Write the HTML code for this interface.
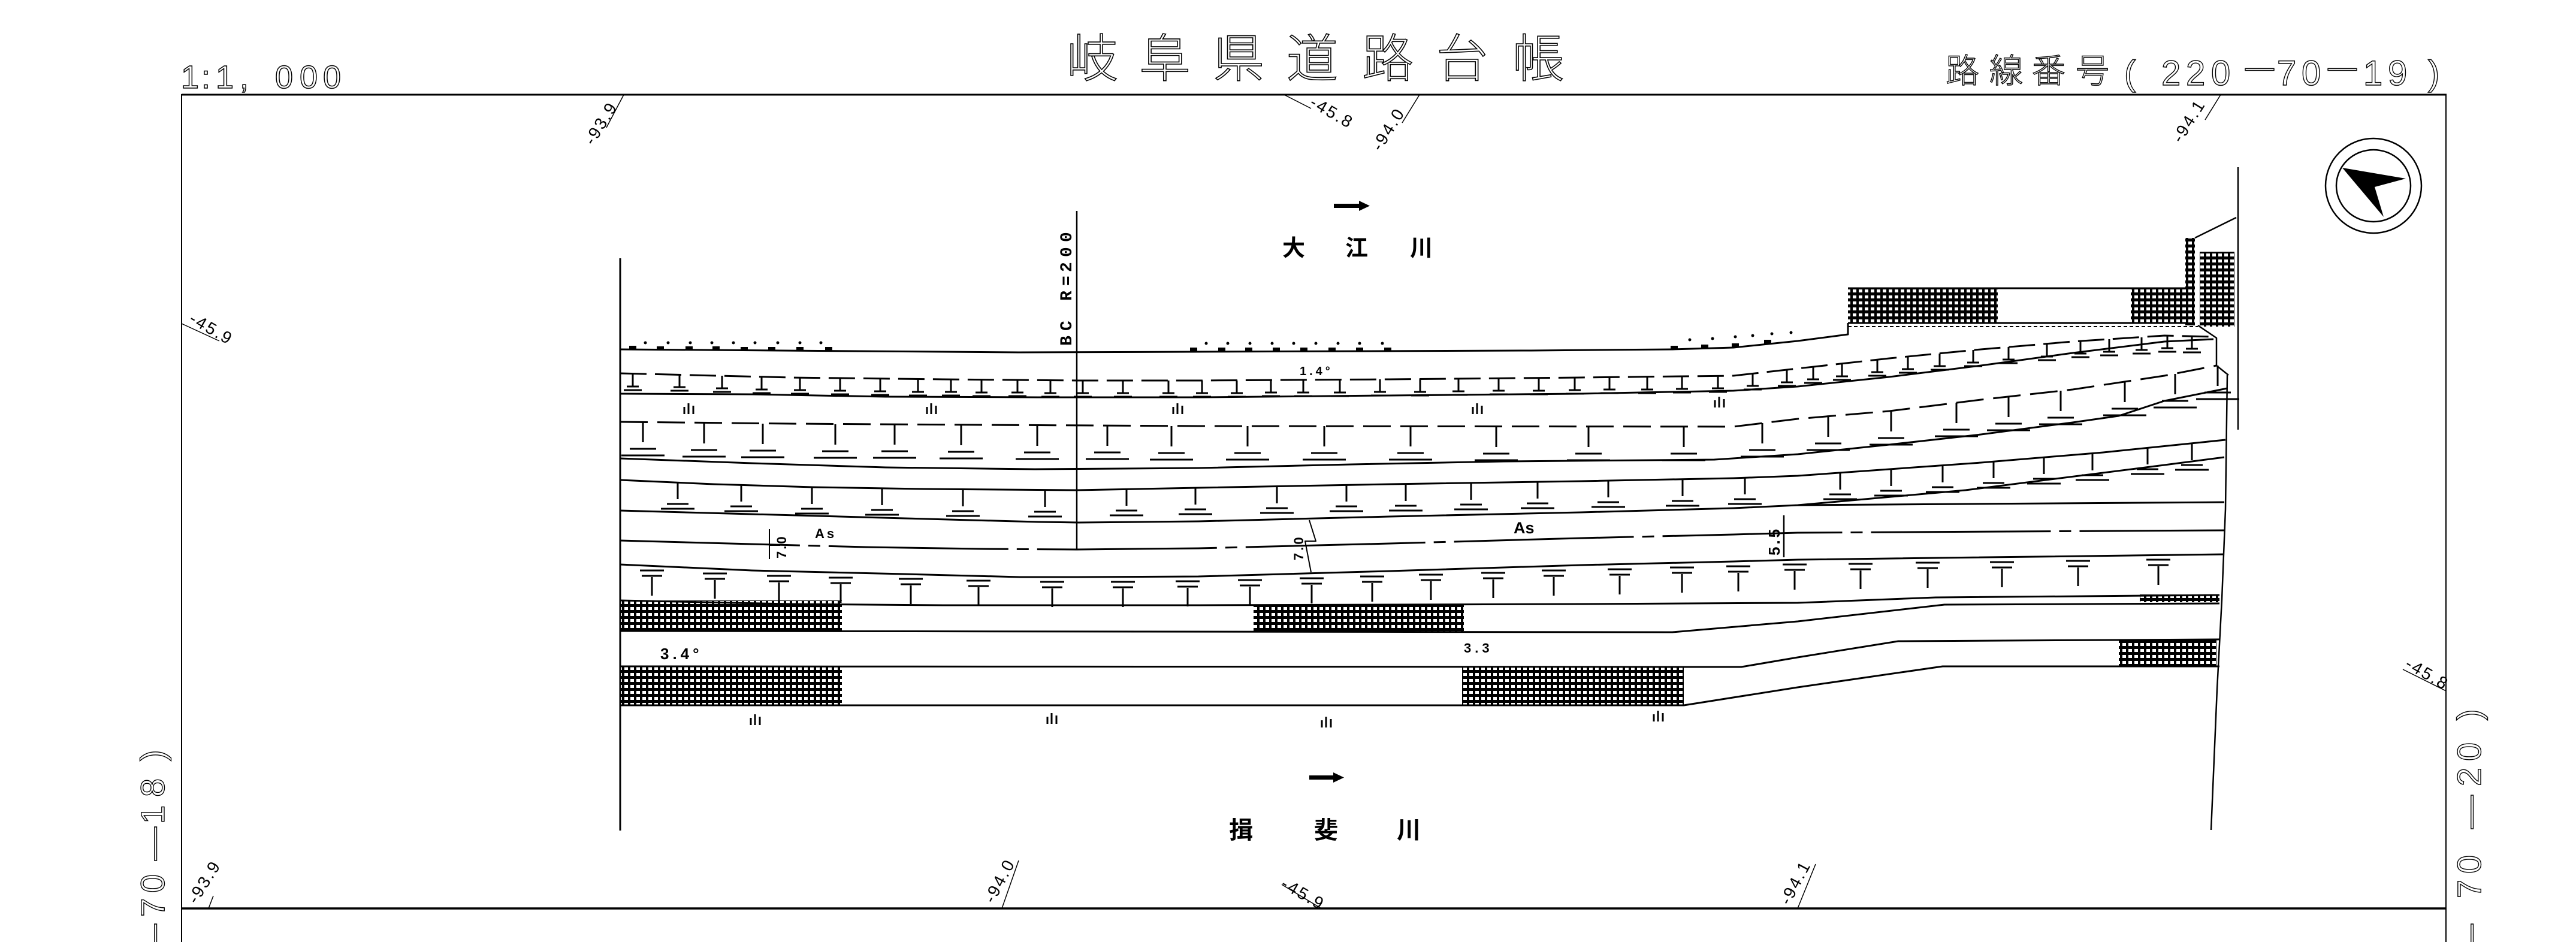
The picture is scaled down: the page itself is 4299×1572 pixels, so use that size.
<!DOCTYPE html>
<html><head><meta charset="utf-8">
<style>html,body{margin:0;padding:0;background:#fff;overflow:hidden}svg{display:block}</style>
</head><body>
<svg xmlns="http://www.w3.org/2000/svg" width="4299" height="1572" viewBox="0 0 4299 1572" font-family="'Liberation Sans','Noto Sans CJK JP',sans-serif">
<defs>
<pattern id="h" width="10" height="10" patternUnits="userSpaceOnUse"><rect width="10" height="10" fill="#000"/><rect x="2" y="3" width="6" height="5" fill="#fff"/></pattern>
<g id="t1" fill="none" stroke="#000" stroke-width="3"><path d="M0 0V20M-10 21H10M-15 27H15"/></g>
<g id="t2" fill="none" stroke="#000" stroke-width="3"><path d="M0 0V34M-22 45H22M-36 56H36"/></g>
<g id="t3" fill="none" stroke="#000" stroke-width="3"><path d="M0 0V28M-18 36H18M-28 44H28"/></g>
<g id="t4" fill="none" stroke="#000" stroke-width="3"><path d="M-20 8H20M-17 17H17M0 19V50"/></g>
<g id="ym" fill="none" stroke="#000" stroke-width="3"><path d="M-8 -4V8M-1 -10V8M7 -6V8"/></g>
</defs>
<rect width="4299" height="1572" fill="#fff"/>

<!-- header text -->
<text x="1780 1901 2024 2147 2273 2397 2524" y="128" font-size="86" font-weight="300" fill="none" stroke="#000" stroke-width="1.6">岐阜県道路台帳</text>
<text x="302 336 360 400 459 500 539" y="147" font-size="54" fill="none" stroke="#000" stroke-width="1.5">1:1,000</text>
<text x="3247 3320 3391 3464" y="138" font-size="56" font-weight="300" fill="none" stroke="#000" stroke-width="1.4">路線番号</text>
<text x="3545 3607 3648 3690 3800 3841 3944 3985 4052" y="142" font-size="58" fill="none" stroke="#000" stroke-width="1.4">(2207019)</text>
<text x="3747 3885" y="128" font-size="48" fill="none" stroke="#000" stroke-width="1.4">——</text>

<!-- frame -->
<g stroke="#000" fill="none">
<line x1="303" y1="158" x2="4083" y2="158" stroke-width="3"/>
<line x1="303" y1="1516" x2="4083" y2="1516" stroke-width="3.5"/>
<line x1="303" y1="157" x2="303" y2="1572" stroke-width="2"/>
<line x1="4082" y1="157" x2="4082" y2="1572" stroke-width="2"/>
</g>

<!-- side labels -->
<text transform="rotate(-90)" y="274" font-size="56" fill="none" stroke="#000" stroke-width="1.4"><tspan x="-1598">—</tspan><tspan x="-1530">7</tspan><tspan x="-1490">0</tspan><tspan x="-1436">—</tspan><tspan x="-1375">1</tspan><tspan x="-1330">8</tspan><tspan x="-1270">)</tspan></text>
<text transform="rotate(-90)" y="4140" font-size="56" fill="none" stroke="#000" stroke-width="1.4"><tspan x="-1598">—</tspan><tspan x="-1499">7</tspan><tspan x="-1458">0</tspan><tspan x="-1383">—</tspan><tspan x="-1312">2</tspan><tspan x="-1270">0</tspan><tspan x="-1202">)</tspan></text>

<!-- elevation labels -->
<g stroke="#000" stroke-width="1.5">
<line x1="1041" y1="158" x2="1012" y2="213"/>
<line x1="2143" y1="158" x2="2188" y2="181"/>
<line x1="2369" y1="158" x2="2340" y2="205"/>
<line x1="3706" y1="158" x2="3680" y2="200"/>
<line x1="303" y1="540" x2="366" y2="569"/>
<line x1="4010" y1="1117" x2="4082" y2="1153"/>
<line x1="1672" y1="1516" x2="1700" y2="1436"/>
<line x1="2139" y1="1476" x2="2205" y2="1516"/>
<line x1="3000" y1="1516" x2="3030" y2="1442"/>
<line x1="348" y1="1516" x2="356" y2="1495"/>
</g>
<g font-size="28" fill="#000">
<text transform="translate(990,244) rotate(-58)" letter-spacing="3">-93.9</text>
<text transform="translate(2184,176) rotate(30)" letter-spacing="3">-45.8</text>
<text transform="translate(2304,254) rotate(-58)" letter-spacing="3">-94.0</text>
<text transform="translate(3640,240) rotate(-58)" letter-spacing="3">-94.1</text>
<text transform="translate(314,537) rotate(30)" letter-spacing="3">-45.9</text>
<text transform="translate(4012,1113) rotate(30)" letter-spacing="3">-45.8</text>
<text transform="translate(328,1510) rotate(-58)" letter-spacing="3">-93.9</text>
<text transform="translate(1658,1509) rotate(-62)" letter-spacing="3">-94.0</text>
<text transform="translate(2136,1480) rotate(30)" letter-spacing="3">-45.9</text>
<text transform="translate(2986,1512) rotate(-62)" letter-spacing="3">-94.1</text>
</g>

<!-- compass -->
<ellipse cx="3961" cy="310" rx="80" ry="79" fill="none" stroke="#000" stroke-width="2.5"/>
<ellipse cx="3961" cy="310" rx="62" ry="60" fill="none" stroke="#000" stroke-width="2.5"/>
<polygon points="3909,280 4015,298 3963,312 3978,362" fill="#000"/>

<!-- river labels & arrows -->
<rect x="2226" y="340" width="44" height="7" fill="#000"/>
<polygon points="2268,335 2286,343.5 2268,352" fill="#000"/>
<text x="2140 2245 2353" y="427" font-size="38" font-weight="bold" fill="#000">大江川</text>
<rect x="2185" y="1294" width="42" height="7" fill="#000"/>
<polygon points="2225,1289 2243,1297.5 2225,1306" fill="#000"/>
<text x="2051 2193 2331" y="1399" font-size="40" font-weight="bold" fill="#000">揖斐川</text>

<!-- BC -->
<line x1="1797" y1="352" x2="1797" y2="917" stroke="#000" stroke-width="2.5"/>
<text transform="rotate(-90)" y="1788" font-size="28" font-weight="bold" font-family="'Liberation Mono',monospace" fill="#000" x="-577 -552 -527 -502 -477 -454 -429 -404">BC R=200</text>

<!-- hatched blocks -->
<g fill="url(#h)">
<rect x="1035" y="1002" width="370" height="51"/>
<rect x="2092" y="1010" width="351" height="45"/>
<rect x="1035" y="1112" width="370" height="65"/>
<rect x="2440" y="1113" width="370" height="64"/>
<rect x="3536" y="1067" width="163" height="45"/>
<rect x="3571" y="992" width="133" height="13"/>
<rect x="3084" y="481" width="250" height="58"/>
<rect x="3556" y="481" width="92" height="58"/>
<rect x="3647" y="397" width="16" height="146"/>
<rect x="3671" y="420" width="58" height="125"/>
</g>

<!-- main lines -->
<g fill="none" stroke="#000" stroke-width="3" stroke-linejoin="round">
<line x1="1035" y1="431" x2="1035" y2="1386"/>
<polyline points="1035,583 1700,588 2000,587 2555,585 2791,583 2893,580 3000,569 3084,558 3084,539"/>
<polyline stroke-dasharray="44 14" points="1035,623 1319,630 1574,633 1797,635 2000,635 2319,633 2638,630 2893,627 3000,615 3153,598 3306,583 3459,570 3612,560 3694,562"/>
<polyline points="1035,657 1255,658 1478,662 1733,663 2000,663 2319,660 2638,657 2893,652 3000,645 3153,629 3306,610 3459,589 3612,570 3694,566"/>
<polyline stroke-dasharray="46 16" points="1035,704 1319,707 1638,709 2000,711 2893,712 3000,699 3153,686 3306,667 3459,650 3612,627 3699,610"/>
<polyline points="1035,765 1255,773 1478,780 1727,783 2000,781 2255,775 2510,770 2861,767 3000,758 3153,742 3306,725 3459,705 3536,694 3612,669 3717,648"/>
<polyline points="1035,801 1191,808 1357,813 1542,816 1797,818 2000,814 2319,808 2638,803 2893,798 3000,794 3306,772 3510,755 3714,734"/>
<polyline points="1035,852 1255,858 1510,865 1733,871 1800,872 2000,870 2319,862 2638,855 2893,848 3000,843 3280,818 3612,776 3712,763"/>
<polyline points="3000,843 3712,838"/>
<polyline stroke-dasharray="300 14 20 14" points="1035,902 1255,908 1446,913 1638,916 1797,917 2000,915 2319,907 2638,898 2893,892 3000,889 3712,885"/>
<polyline points="1035,942 1255,952 1510,958 1702,963 1797,963 2000,962 2319,953 2638,943 2893,937 3000,934 3712,925"/>
<polyline points="1035,1002 1319,1008 1574,1010 2000,1010 2638,1008 3000,1006 3230,997 3704,993"/>
<polyline points="1035,1053 2791,1055 3000,1037 3245,1009 3704,1007"/>
<polyline points="1035,1112 2906,1113 3000,1097 3168,1070 3704,1067"/>
<polyline points="1035,1177 2810,1177 3000,1147 3242,1112 3704,1112"/>
<!-- right structure -->
<line x1="3084" y1="481" x2="3648" y2="481"/>
<line x1="3084" y1="539" x2="3648" y2="539"/>
<line x1="3735" y1="279" x2="3735" y2="717" stroke-width="2.5"/>
<line x1="3663" y1="397" x2="3732" y2="363" stroke-width="2.5"/>
<line x1="3084" y1="545" x2="3668" y2="545" stroke-width="2" stroke-dasharray="6 4"/>
<polyline points="3668,543 3699,564 3699,610 3719,626" stroke-width="2.5"/>
<polyline points="3717,626 3714,850 3708,1000 3700,1150 3690,1385" stroke-width="2.5"/>
<!-- dim ticks -->
<line x1="1284" y1="883" x2="1284" y2="933" stroke-width="2"/>
<line x1="1284" y1="910" x2="1302" y2="910" stroke-width="2"/>
<polyline points="2185,868 2196,903 2178,903 2188,955" stroke-width="2"/>
<line x1="2977" y1="860" x2="2977" y2="930" stroke-width="2.5"/>
</g>

<!-- bank bumps and dots -->
<g fill="#000">
<rect x="1050" y="577" width="12" height="7"/><rect x="1096" y="578" width="12" height="7"/><rect x="1144" y="578" width="12" height="7"/><rect x="1189" y="578" width="12" height="7"/><rect x="1236" y="579" width="12" height="7"/><rect x="1282" y="579" width="12" height="7"/><rect x="1329" y="579" width="12" height="7"/><rect x="1377" y="579" width="12" height="7"/>
<rect x="1986" y="580" width="12" height="7"/><rect x="2033" y="580" width="12" height="7"/><rect x="2078" y="580" width="12" height="7"/><rect x="2124" y="580" width="12" height="7"/><rect x="2170" y="580" width="12" height="7"/><rect x="2217" y="580" width="12" height="7"/><rect x="2263" y="580" width="12" height="7"/><rect x="2310" y="580" width="12" height="7"/>
<rect x="2788" y="577" width="12" height="7"/><rect x="2839" y="575" width="12" height="7"/><rect x="2890" y="573" width="12" height="7"/><rect x="2944" y="567" width="12" height="7"/>
<circle cx="1077" cy="572" r="2.5"/><circle cx="1115" cy="572" r="2.5"/><circle cx="1152" cy="572" r="2.5"/><circle cx="1188" cy="572" r="2.5"/><circle cx="1224" cy="572" r="2.5"/><circle cx="1260" cy="572" r="2.5"/><circle cx="1298" cy="572" r="2.5"/><circle cx="1335" cy="572" r="2.5"/><circle cx="1370" cy="572" r="2.5"/>
<circle cx="2013" cy="573" r="2.5"/><circle cx="2049" cy="573" r="2.5"/><circle cx="2086" cy="573" r="2.5"/><circle cx="2123" cy="573" r="2.5"/><circle cx="2159" cy="573" r="2.5"/><circle cx="2196" cy="573" r="2.5"/><circle cx="2233" cy="573" r="2.5"/><circle cx="2269" cy="573" r="2.5"/><circle cx="2307" cy="573" r="2.5"/>
<circle cx="2820" cy="567" r="2.5"/><circle cx="2858" cy="565" r="2.5"/><circle cx="2896" cy="562" r="2.5"/><circle cx="2925" cy="560" r="2.5"/><circle cx="2957" cy="557" r="2.5"/><circle cx="2989" cy="555" r="2.5"/>
</g>

<!-- T row 1 -->
<use href="#t1" x="1056" y="624"/><use href="#t1" x="1134" y="625"/><use href="#t1" x="1205" y="627"/><use href="#t1" x="1271" y="629"/><use href="#t1" x="1335" y="630"/><use href="#t1" x="1402" y="631"/><use href="#t1" x="1469" y="632"/><use href="#t1" x="1532" y="633"/><use href="#t1" x="1587" y="633"/><use href="#t1" x="1638" y="634"/><use href="#t1" x="1698" y="634"/><use href="#t1" x="1753" y="635"/><use href="#t1" x="1807" y="635"/><use href="#t1" x="1874" y="635"/><use href="#t1" x="1950" y="635"/><use href="#t1" x="2006" y="635"/><use href="#t1" x="2064" y="635"/><use href="#t1" x="2121" y="634"/><use href="#t1" x="2175" y="634"/><use href="#t1" x="2236" y="634"/><use href="#t1" x="2303" y="633"/><use href="#t1" x="2370" y="633"/><use href="#t1" x="2434" y="632"/><use href="#t1" x="2501" y="631"/><use href="#t1" x="2568" y="631"/><use href="#t1" x="2628" y="630"/><use href="#t1" x="2686" y="629"/><use href="#t1" x="2749" y="629"/><use href="#t1" x="2807" y="628"/><use href="#t1" x="2867" y="627"/><use href="#t1" x="2925" y="623"/><use href="#t1" x="2982" y="617"/><use href="#t1" x="3026" y="612"/><use href="#t1" x="3074" y="607"/><use href="#t1" x="3133" y="600"/><use href="#t1" x="3184" y="595"/><use href="#t1" x="3237" y="590"/><use href="#t1" x="3293" y="584"/><use href="#t1" x="3352" y="579"/><use href="#t1" x="3416" y="574"/><use href="#t1" x="3472" y="569"/><use href="#t1" x="3520" y="566"/><use href="#t1" x="3574" y="563"/><use href="#t1" x="3617" y="560"/><use href="#t1" x="3658" y="561"/>
<!-- T row 2 -->
<use href="#t2" x="1073" y="704"/><use href="#t2" x="1175" y="706"/><use href="#t2" x="1273" y="707"/><use href="#t2" x="1394" y="708"/><use href="#t2" x="1493" y="708"/><use href="#t2" x="1604" y="709"/><use href="#t2" x="1731" y="710"/><use href="#t2" x="1848" y="710"/><use href="#t2" x="1955" y="711"/><use href="#t2" x="2082" y="711"/><use href="#t2" x="2210" y="711"/><use href="#t2" x="2354" y="711"/><use href="#t2" x="2497" y="712"/><use href="#t2" x="2651" y="712"/><use href="#t2" x="2810" y="712"/><use href="#t2" x="2941" y="706"/><use href="#t2" x="3051" y="695"/><use href="#t2" x="3156" y="686"/><use href="#t2" x="3265" y="672"/><use href="#t2" x="3352" y="662"/><use href="#t2" x="3439" y="652"/><use href="#t2" x="3546" y="637"/><use href="#t2" x="3630" y="624"/><use href="#t2" x="3701" y="610"/>
<!-- T row 3 -->
<use href="#t3" x="1131" y="805"/><use href="#t3" x="1237" y="809"/><use href="#t3" x="1355" y="813"/><use href="#t3" x="1472" y="815"/><use href="#t3" x="1607" y="817"/><use href="#t3" x="1744" y="818"/><use href="#t3" x="1880" y="816"/><use href="#t3" x="1995" y="814"/><use href="#t3" x="2131" y="812"/><use href="#t3" x="2247" y="809"/><use href="#t3" x="2346" y="808"/><use href="#t3" x="2455" y="806"/><use href="#t3" x="2566" y="804"/><use href="#t3" x="2684" y="802"/><use href="#t3" x="2808" y="800"/><use href="#t3" x="2912" y="797"/><use href="#t3" x="3071" y="789"/><use href="#t3" x="3156" y="783"/><use href="#t3" x="3242" y="777"/><use href="#t3" x="3327" y="770"/><use href="#t3" x="3411" y="763"/><use href="#t3" x="3492" y="757"/><use href="#t3" x="3584" y="747"/><use href="#t3" x="3658" y="740"/>
<!-- T row 4 -->
<use href="#t4" x="1088" y="944"/><use href="#t4" x="1193" y="949"/><use href="#t4" x="1300" y="953"/><use href="#t4" x="1403" y="956"/><use href="#t4" x="1520" y="958"/><use href="#t4" x="1633" y="961"/><use href="#t4" x="1756" y="963"/><use href="#t4" x="1874" y="963"/><use href="#t4" x="1982" y="962"/><use href="#t4" x="2086" y="960"/><use href="#t4" x="2189" y="957"/><use href="#t4" x="2290" y="954"/><use href="#t4" x="2388" y="951"/><use href="#t4" x="2492" y="948"/><use href="#t4" x="2593" y="944"/><use href="#t4" x="2703" y="942"/><use href="#t4" x="2807" y="939"/><use href="#t4" x="2901" y="937"/><use href="#t4" x="2995" y="934"/><use href="#t4" x="3105" y="933"/><use href="#t4" x="3217" y="931"/><use href="#t4" x="3341" y="930"/><use href="#t4" x="3468" y="928"/><use href="#t4" x="3602" y="926"/>

<!-- field symbols -->
<use href="#ym" x="1150" y="683"/><use href="#ym" x="1555" y="683"/><use href="#ym" x="1966" y="683"/><use href="#ym" x="2466" y="683"/><use href="#ym" x="2870" y="672"/>
<use href="#ym" x="1261" y="1202"/><use href="#ym" x="1756" y="1200"/><use href="#ym" x="2214" y="1206"/><use href="#ym" x="2768" y="1196"/>

<!-- inner labels -->
<g font-weight="bold" fill="#000">
<text x="2169" y="626" font-size="20" letter-spacing="5">1.4°</text>
<text x="1360" y="898" font-size="22" letter-spacing="4">As</text>
<text x="2526" y="890" font-size="27">As</text>
<text x="1102" y="1100" font-size="26" letter-spacing="6">3.4°</text>
<text x="2443" y="1089" font-size="22" letter-spacing="6">3.3</text>
<text transform="rotate(-90)" x="-932" y="1312" font-size="22" letter-spacing="3">7.0</text>
<text transform="rotate(-90)" x="-935" y="2175" font-size="22" letter-spacing="4">7.0</text>
<text transform="rotate(-90)" x="-927" y="2970" font-size="26" letter-spacing="4">5.5</text>
</g>
</svg>
</body></html>
